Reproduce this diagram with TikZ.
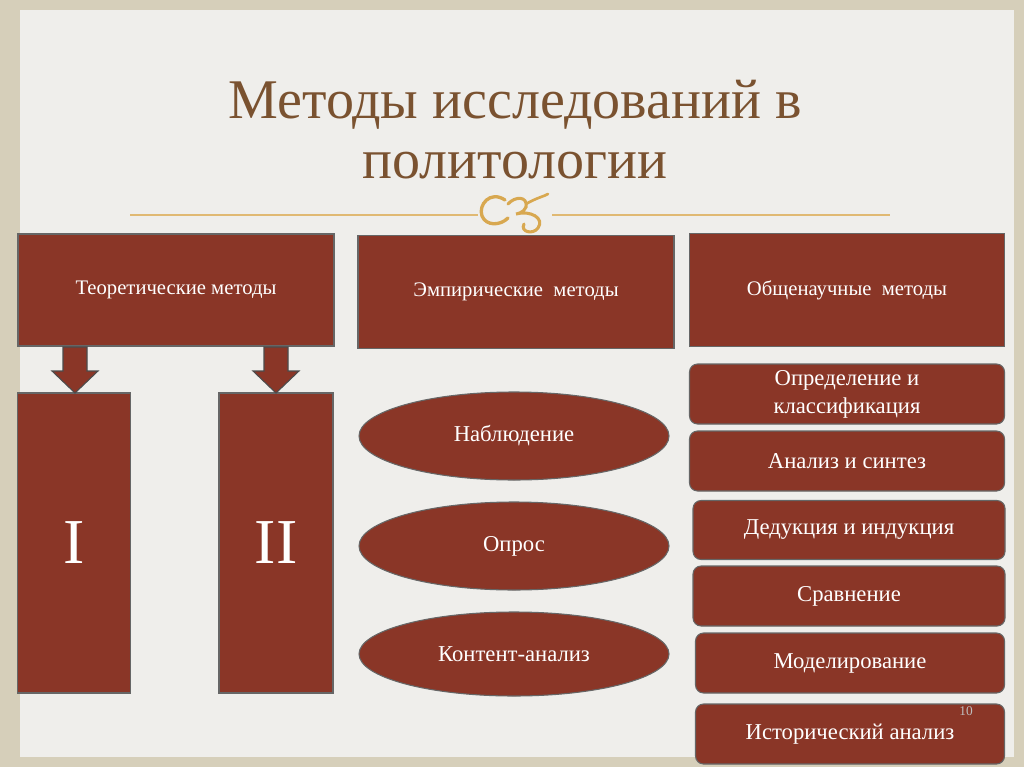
\documentclass[tikz,border=0pt]{standalone}
\usepackage{fontspec}
\setmainfont{Liberation Serif}
\usetikzlibrary{shapes.geometric,shapes.arrows}
\definecolor{brick}{HTML}{8A3627}
\definecolor{titlec}{HTML}{7A5230}
\definecolor{gold}{HTML}{D8A850}
\tikzset{
 box/.style={draw=black!60,fill=brick,text=white,line width=0.8pt,font=\fontsize{15.5}{18}\selectfont},
 rbox/.style={box,rounded corners=6pt,font=\fontsize{17}{21}\selectfont,align=center},
 ell/.style={draw=black!60,fill=brick,text=white,ellipse,line width=0.8pt,font=\fontsize{17}{21}\selectfont},
 barrow/.style={draw=black!70,fill=brick,line width=0.8pt}
}
\begin{document}
\begin{tikzpicture}[x=0.75pt,y=-0.75pt]
\useasboundingbox (0,0) rectangle (1024,767);
\fill[color={rgb,255:red,214;green,207;blue,186}] (0,0) rectangle (1024,767);
\fill[color={rgb,255:red,239;green,238;blue,235}] (20,10) rectangle (1014,757);
\node[text=titlec,font=\fontsize{42}{45}\selectfont,align=center] (title) at (515,130) {Методы исследований в\\политологии};
\draw[gold!80!white,line width=0.8pt] (130,215) -- (478,215) (552,215) -- (890,215);
\draw[gold,line width=2.5pt,line cap=round] (505,200) .. controls (490,190) and (478,205) .. (482,216) .. controls (486,226) and (500,226) .. (508,218);
\draw[gold,line width=2.3pt,line cap=round] (508,204) .. controls (515,196) and (528,196) .. (526,207) .. controls (524,213) and (516,214) .. (516,214) .. controls (530,210) and (545,218) .. (538,228) .. controls (533,235) and (520,232) .. (524,224);
\draw[gold,line width=2pt,line cap=round] (526,204) .. controls (536,198) and (545,196) .. (548,194);
\node[box,minimum width=316*0.75pt,minimum height=112*0.75pt] (t) at (176,290) {Теоретические методы};
\node[box,minimum width=316*0.75pt,minimum height=113*0.75pt] (e) at (516,292) {Эмпирические\ \ методы};
\node[box,minimum width=315*0.75pt,minimum height=113*0.75pt] (g) at (847,290) {Общенаучные\ \ методы};
\node[box,minimum width=113*0.75pt,minimum height=300*0.75pt,font=\fontsize{48}{50}\selectfont] (one) at (74,543) {I};
\node[box,minimum width=114*0.75pt,minimum height=300*0.75pt,font=\fontsize{48}{50}\selectfont] (two) at (276,543) {II};
\draw[barrow] (63,347) -- (87,347) -- (87,371) -- (98,371) -- (75,393) -- (52,371) -- (63,371) -- cycle;
\draw[barrow] (264,347) -- (288,347) -- (288,371) -- (299,371) -- (276,393) -- (253,371) -- (264,371) -- cycle;
\node[ell,minimum width=310*0.75pt,minimum height=88*0.75pt] (n) at (514,436) {Наблюдение};
\node[ell,minimum width=310*0.75pt,minimum height=88*0.75pt] (o) at (514,546) {Опрос};
\node[ell,minimum width=310*0.75pt,minimum height=84*0.75pt] (k) at (514,654) {Контент-анализ};
\node[rbox,minimum width=315*0.75pt,minimum height=60*0.75pt] (r1) at (847,394) {Определение и\\классификация};
\node[rbox,minimum width=315*0.75pt,minimum height=60*0.75pt] (r2) at (847,461) {Анализ и синтез};
\node[rbox,minimum width=312*0.75pt,minimum height=59*0.75pt] (r3) at (849,530) {Дедукция и индукция};
\node[rbox,minimum width=312*0.75pt,minimum height=60*0.75pt] (r4) at (849,596) {Сравнение};
\node[rbox,minimum width=309*0.75pt,minimum height=60*0.75pt] (r5) at (850,663) {Моделирование};
\node[rbox,minimum width=309*0.75pt,minimum height=60*0.75pt] (r6) at (850,734) {Исторический анализ};
\node[text=black!25,font=\fontsize{10}{12}\selectfont] (pg) at (966,711) {10};
\end{tikzpicture}
\end{document}
